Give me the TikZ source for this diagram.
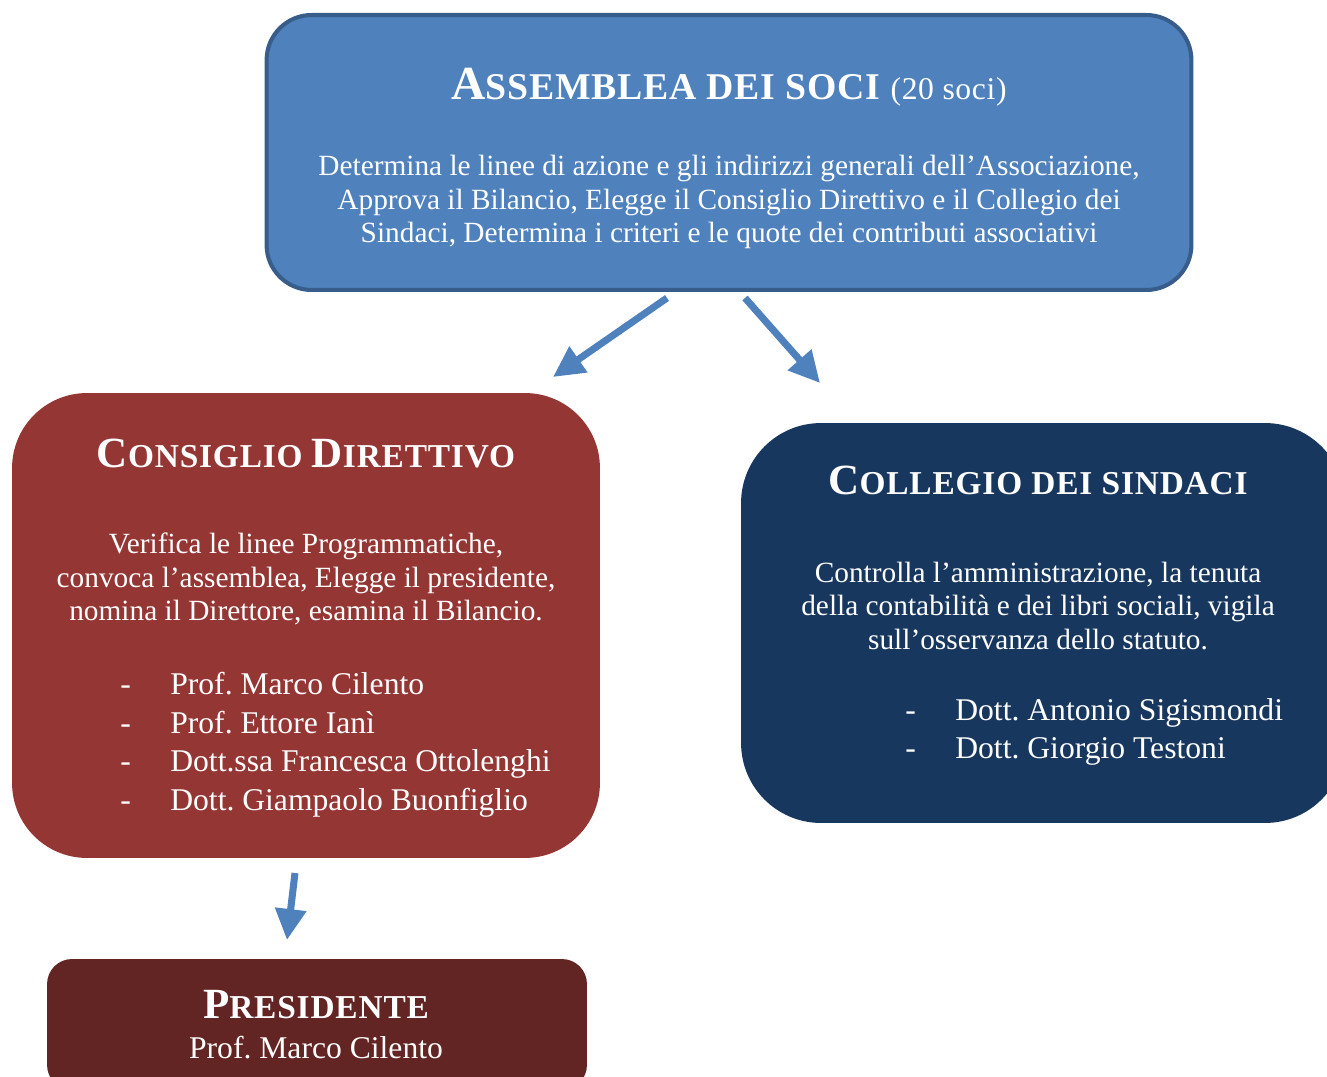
\documentclass[tikz,border=0pt]{standalone}
\usepackage{fontspec}
\setmainfont{Liberation Serif}
\usetikzlibrary{arrows.meta, positioning}
\frenchspacing

\definecolor{assblue}{HTML}{4F81BD}
\definecolor{assborder}{HTML}{385D8A}
\definecolor{consred}{HTML}{943634}
\definecolor{collnavy}{HTML}{17375E}
\definecolor{presred}{HTML}{632523}

% fake small caps: big first letter, smaller capitals after it
\newcommand{\capbig}{}
\newcommand{\capword}[2]{{\capbig #1}#2}

\begin{document}
\begin{tikzpicture}[
    x=0.02cm, y=-0.02cm,
    box/.style={
        rectangle,
        inner sep=0pt
    },
    title/.style={
        text=white,
        font=\bfseries\renewcommand{\capbig}{\fontsize{24.5}{26}\selectfont}%
             \fontsize{19}{22}\selectfont\addfontfeature{LetterSpace=2.5},
        anchor=base,
        inner sep=0pt
    },
    bigtitle/.style={
        title,
        font=\bfseries\renewcommand{\capbig}{\fontsize{27}{30}\selectfont}%
             \fontsize{21.5}{24}\selectfont\addfontfeature{LetterSpace=2}
    },
    body/.style={
        text=white,
        align=center,
        font=\fontsize{16.7}{19.3}\selectfont,
        inner sep=0pt
    },
    members/.style={
        text=white,
        align=left,
        anchor=north west,
        font=\fontsize{18}{22}\selectfont,
        inner sep=0pt
    },
    bigarrow/.style={
        draw=assblue,
        line width=4pt,
        -{Triangle[length=0.62cm,width=0.6cm]}
    }
]
\useasboundingbox (0,0) rectangle (1327,1077);

% Boxes
\node[box, fill=assblue, draw=assborder, line width=2.3pt, rounded corners=0.9cm,
      minimum width=18.5cm, minimum height=5.5cm] (assemblea) at (729,152.5) {};
\node[box, fill=consred, rounded corners=1.5cm,
      minimum width=11.76cm, minimum height=9.3cm] (consiglio) at (306,625.5) {};
\node[box, fill=collnavy, rounded corners=1.6cm,
      minimum width=12.08cm, minimum height=8cm] (collegio) at (1043,623) {};
\node[box, fill=presred, rounded corners=0.5cm,
      minimum width=10.8cm, minimum height=2.62cm] (presidente) at (317,1024.5) {};

% Assemblea
\node[bigtitle] (assTitle) at (729,100)
    {\capword{A}{SSEMBLEA DEI SOCI} {\mdseries\fontsize{18}{20}\selectfont (20 soci)}};
\node[body] (assText) at (729,202)
    {Determina le linee di azione e gli indirizzi generali dell’Associazione,\\
     Approva il Bilancio, Elegge il Consiglio Direttivo e il Collegio dei\\
     Sindaci, Determina i criteri e le quote dei contributi associativi};

% Consiglio
\node[title] (consTitle) at (306,467) {\capword{C}{ONSIGLIO} \capword{D}{IRETTIVO}};
\node[body] (consText) at (306,579)
    {Verifica le linee Programmatiche,\\
     convoca l’assemblea, Elegge il presidente,\\
     nomina il Direttore, esamina il Bilancio.};
\node[members] (consList) at (120,672)
    {\makebox[1.0cm][l]{-}Prof. Marco Cilento\\
     \makebox[1.0cm][l]{-}Prof. Ettore Ianì\\
     \makebox[1.0cm][l]{-}Dott.ssa Francesca Ottolenghi\\
     \makebox[1.0cm][l]{-}Dott. Giampaolo Buonfiglio};

% Collegio
\node[title] (collTitle) at (1038,494) {\capword{C}{OLLEGIO DEI SINDACI}};
\node[body] (collText) at (1038,606)
    {Controlla l’amministrazione, la tenuta\\
     della contabilità e dei libri sociali, vigila\\
     sull’osservanza dello statuto.};
\node[members] (collList) at (905,698)
    {\makebox[1.0cm][l]{-}Dott. Antonio Sigismondi\\
     \makebox[1.0cm][l]{-}Dott. Giorgio Testoni};

% Presidente
\node[title] (presTitle) at (316,1018) {\capword{P}{RESIDENTE}};
\node[body, anchor=base, font=\fontsize{18}{22}\selectfont] (presName) at (316,1058)
    {Prof. Marco Cilento};

% Arrows
\coordinate (arrLs) at (667,298);
\coordinate (arrLe) at (553,377);
\coordinate (arrRs) at (745,298);
\coordinate (arrRe) at (820,383);
\coordinate (arrPs) at (295,873);
\coordinate (arrPe) at (287,940);
\draw[bigarrow] (arrLs) -- (arrLe);
\draw[bigarrow] (arrRs) -- (arrRe);
\draw[bigarrow] (arrPs) -- (arrPe);
\end{tikzpicture}
\end{document}
